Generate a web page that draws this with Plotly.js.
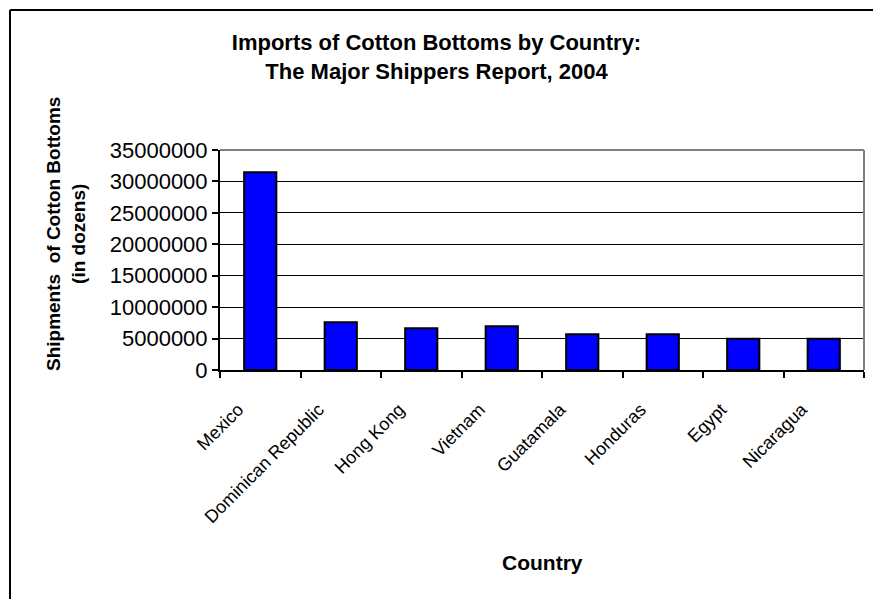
<!DOCTYPE html>
<html>
<head>
<meta charset="utf-8">
<script src="https://cdn.plot.ly/plotly-3.0.1.min.js"></script>
<style>html,body{margin:0;padding:0;background:#fff;}#chart{width:873px;height:599px;}</style>
</head>
<body>
<div id="chart"></div>
<script>
const countries = ["Mexico", "Dominican Republic", "Hong Kong", "Vietnam", "Guatamala", "Honduras", "Egypt", "Nicaragua"];
const shipments = [31450000, 7590000, 6630000, 6950000, 5680000, 5680000, 4980000, 4970000];
const yTickVals = [0, 5000000, 10000000, 15000000, 20000000, 25000000, 30000000, 35000000];
const chartTitle = "Imports of Cotton Bottoms by Country:<br>The Major Shippers Report, 2004";
const yTitle = "Shipments  of Cotton Bottoms<br>(in dozens)";
const xTitle = "Country";

const FONT = "Liberation Sans, Arial, sans-serif";

const trace = {
  type: "bar",
  x: countries,
  y: shipments,
  marker: {color: "#0000FF", line: {color: "#000000", width: 2}},
  hoverinfo: "x+y"
};

const W = 873, H = 599;
const m = {l: 220, r: 9, t: 150, b: 229};
const pw = W - m.l - m.r, ph = H - m.t - m.b;
const px = v => (v - m.l) / pw;           // pixel x -> paper x
const py = v => (H - m.b - v) / ph;       // pixel y -> paper y

const layout = {
  width: W, height: H,
  margin: m,
  paper_bgcolor: "#ffffff",
  plot_bgcolor: "#ffffff",
  showlegend: false,
  bargap: 0.6,
  font: {family: FONT, color: "#000000"},
  title: {
    text: chartTitle,
    font: {family: FONT, size: 22, weight: 700, color: "#000"},
    x: 0.5, xref: "container", xanchor: "center",
    y: 1 - 50 / H, yref: "container", yanchor: "top"
  },
  xaxis: {
    type: "category",
    tickangle: -45,
    tickfont: {family: FONT, size: 18, color: "#000"},
    ticklabelshift: -22,
    ticklabelstandoff: 20,
    showline: true, linecolor: "#000", linewidth: 2,
    ticks: "outside", tickson: "boundaries", ticklen: 6, tickwidth: 2, tickcolor: "#000",
    showgrid: false, zeroline: false,
    fixedrange: true
  },
  yaxis: {
    range: [0, 35000000],
    tickvals: yTickVals,
    tickformat: "d",
    tickfont: {family: FONT, size: 22, color: "#000"},
    showline: true, linecolor: "#000", linewidth: 2,
    ticks: "outside", ticklen: 6, tickwidth: 2, tickcolor: "#000",
    showgrid: true, gridcolor: "#000", gridwidth: 1,
    zeroline: false,
    fixedrange: true
  },
  shapes: [
    {type: "line", xref: "paper", yref: "paper", x0: 0, x1: 1, y0: 1, y1: 1, line: {color: "#808080", width: 2}, layer: "above"},
    {type: "line", xref: "paper", yref: "paper", x0: 1, x1: 1, y0: 0, y1: 1, line: {color: "#808080", width: 2}, layer: "above"},
    {type: "line", xref: "paper", yref: "paper", x0: px(10), x1: px(900), y0: py(10), y1: py(10), line: {color: "#000", width: 2}},
    {type: "line", xref: "paper", yref: "paper", x0: px(10), x1: px(10), y0: py(10), y1: py(640), line: {color: "#000", width: 2}}
  ],
  annotations: [
    {text: yTitle, xref: "paper", yref: "paper", x: px(66), y: py(234), xanchor: "center", yanchor: "middle",
     textangle: -90, showarrow: false, font: {family: FONT, size: 19, weight: 700, color: "#000"}},
    {text: xTitle, xref: "paper", yref: "paper", x: px(542), y: py(562), xanchor: "center", yanchor: "middle",
     showarrow: false, font: {family: FONT, size: 21, weight: 700, color: "#000"}}
  ]
};

Plotly.newPlot("chart", [trace], layout, {displayModeBar: false});
</script>
</body>
</html>
